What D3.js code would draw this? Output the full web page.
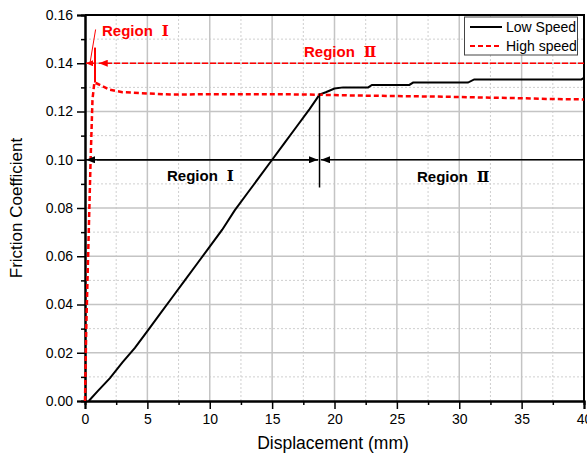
<!DOCTYPE html>
<html>
<head>
<meta charset="utf-8">
<script src="https://cdn.jsdelivr.net/npm/d3@7"></script>
<style>
  body { margin: 0; background: #fff; }
  text { font-family: "Liberation Sans", Arial, sans-serif; }
</style>
</head>
<body>
<script>
const [svgWidth, svgHeight] = [587, 461]

// displacement (mm) / friction coefficient
const lowX = [0.3, 1, 2, 3, 4, 5, 6, 7, 8, 9, 10, 11, 12, 13, 14, 15, 16, 17, 18, 18.8,
  19.3, 20, 20.7, 22.7, 23, 26, 26.3, 30.7, 31.2, 39.8, 40];
const lowY = [0, 0.004, 0.0095, 0.016, 0.022, 0.029, 0.036, 0.043, 0.050, 0.057, 0.064, 0.071, 0.079, 0.086, 0.093, 0.100, 0.107, 0.114, 0.121, 0.127,
  0.128, 0.1295, 0.130, 0.130, 0.131, 0.131, 0.132, 0.132, 0.1333, 0.1333, 0.134];
const highX = [0, 0.1, 0.3, 0.45, 0.6, 0.75, 1, 2, 3, 5, 7, 10, 15, 18, 20, 22, 25, 28, 30, 32, 35, 37, 40];
const highY = [0, 0.03, 0.07, 0.10, 0.125, 0.132, 0.1315, 0.129, 0.128, 0.1275, 0.127, 0.1272, 0.1272, 0.127, 0.1268, 0.1266, 0.1264, 0.1262, 0.126, 0.1258, 0.1255, 0.1252, 0.125];

const xTicks = [0, 5, 10, 15, 20, 25, 30, 35, 40];
const yTicks = [0, 0.02, 0.04, 0.06, 0.08, 0.10, 0.12, 0.14, 0.16];

const svg = d3.select('body')
  .append('svg')
  .attr("width", svgWidth)
  .attr("height", svgHeight);

const x = d3.scaleLinear().domain([0, 40]).range([85, 584]);
const y = d3.scaleLinear().domain([0, 0.16]).range([401, 15]);

const xMinor = d3.range(2.5, 40, 5);
const yMinor = d3.range(0.01, 0.16, 0.02);

// grid
const grid = svg.append("g");
grid.selectAll(".vmin").data(xMinor).enter().append("line")
  .attr("x1", d => x(d)).attr("x2", d => x(d)).attr("y1", y(0)).attr("y2", y(0.16))
  .attr("stroke", "#cfcfcf").attr("stroke-dasharray", "2,2");
grid.selectAll(".hmin").data(yMinor).enter().append("line")
  .attr("y1", d => y(d)).attr("y2", d => y(d)).attr("x1", x(0)).attr("x2", x(40))
  .attr("stroke", "#cfcfcf").attr("stroke-dasharray", "2,2");
grid.selectAll(".vmaj").data(xTicks.slice(1, -1)).enter().append("line")
  .attr("x1", d => x(d)).attr("x2", d => x(d)).attr("y1", y(0)).attr("y2", y(0.16))
  .attr("stroke", "#c4c4c4").attr("stroke-width", 1.5);
grid.selectAll(".hmaj").data(yTicks.slice(1, -1)).enter().append("line")
  .attr("y1", d => y(d)).attr("y2", d => y(d)).attr("x1", x(0)).attr("x2", x(40))
  .attr("stroke", "#c4c4c4").attr("stroke-width", 1.5);

// axes
svg.append("g").attr("transform", `translate(0,${y(0)})`)
  .call(d3.axisBottom(x).tickValues(xTicks).tickFormat(d3.format("d")).tickSize(8).tickPadding(5));
svg.append("g").attr("transform", `translate(0,${y(0)})`)
  .call(d3.axisBottom(x).tickValues(xMinor).tickFormat("").tickSize(4));
svg.append("g").attr("transform", `translate(${x(0)},0)`)
  .call(d3.axisLeft(y).tickValues(yTicks).tickFormat(d3.format(".2f")).tickSize(8).tickPadding(4));
svg.append("g").attr("transform", `translate(${x(0)},0)`)
  .call(d3.axisLeft(y).tickValues(yMinor).tickFormat("").tickSize(4));
svg.selectAll(".tick line").attr("stroke", "#000").attr("stroke-width", 1.5);
svg.selectAll(".domain").attr("stroke", "#000").attr("stroke-width", 2);
svg.selectAll(".tick text").attr("font-size", "14px").attr("fill", "#000")
  .attr("font-family", "'Liberation Sans', Arial, sans-serif");

// top and right border
svg.append("path")
  .attr("d", `M${x(0)},${y(0.16)}H${x(40)}V${y(0)}`)
  .attr("fill", "none").attr("stroke", "#000").attr("stroke-width", 2);

// arrow markers
const defs = svg.append("defs");
function marker(id, color, w, h) {
  defs.append("marker").attr("id", id)
    .attr("viewBox", `0 0 ${w} ${h}`).attr("refX", w).attr("refY", h / 2)
    .attr("markerWidth", w).attr("markerHeight", h).attr("markerUnits", "userSpaceOnUse")
    .attr("orient", "auto")
    .append("path").attr("d", `M0,0L${w},${h / 2}L0,${h}Z`).attr("fill", color);
}
marker("arrBlack", "#000", 9, 7);
marker("arrRed", "#f00", 9, 7);
marker("arrRedS", "#f00", 7, 6);

// curves
const line = d3.line().x(d => x(d[0])).y(d => y(d[1]));
svg.append("path").datum(lowX.map((d, i) => [d, lowY[i]]))
  .attr("d", line).attr("fill", "none").attr("stroke", "#000").attr("stroke-width", 2);
svg.append("path").datum(highX.map((d, i) => [d, highY[i]]))
  .attr("d", line).attr("fill", "none").attr("stroke", "#f00").attr("stroke-width", 2.5)
  .attr("stroke-dasharray", "5,3");

// region label: word + roman numeral
function region(px, py, numeral, color) {
  const t = svg.append("text").attr("x", px).attr("y", py)
    .attr("font-size", "15px").attr("font-weight", "bold").attr("fill", color)
    .attr("font-family", "'Noto Sans CJK KR', 'Noto Sans', sans-serif");
  t.append("tspan").text("Region");
  t.append("tspan").attr("dx", 9).attr("font-family", "'DejaVu Serif', serif").text(numeral);
}

// black annotation (0.10)
const bx = 18.8;
svg.append("line").attr("x1", x(40)).attr("x2", x(bx) + 1.5).attr("y1", y(0.10)).attr("y2", y(0.10))
  .attr("stroke", "#000").attr("stroke-width", 1.5).attr("marker-end", "url(#arrBlack)");
svg.append("line").attr("x1", x(bx) - 1.5).attr("x2", x(0) + 1).attr("y1", y(0.10)).attr("y2", y(0.10))
  .attr("stroke", "#000").attr("stroke-width", 1.5).attr("marker-end", "url(#arrBlack)");
svg.append("line").attr("x1", x(0) + 12).attr("x2", x(bx) - 1.5).attr("y1", y(0.10)).attr("y2", y(0.10))
  .attr("stroke", "#000").attr("stroke-width", 1.5).attr("marker-end", "url(#arrBlack)");
svg.append("line").attr("x1", x(bx)).attr("x2", x(bx)).attr("y1", y(0.1275)).attr("y2", y(0.0885))
  .attr("stroke", "#000").attr("stroke-width", 1.5);
region(167, 181, "Ⅰ", "#000");
region(417, 182, "Ⅱ", "#000");

// red annotation (0.14)
const rx = 0.8;
svg.append("line").attr("x1", x(40)).attr("x2", x(1.1)).attr("y1", y(0.14)).attr("y2", y(0.14))
  .attr("stroke", "#f00").attr("stroke-width", 1.5).attr("stroke-dasharray", "6,2")
  .attr("marker-end", "url(#arrRed)");
svg.append("line").attr("x1", x(rx)).attr("x2", x(0) + 1).attr("y1", y(0.14)).attr("y2", y(0.14))
  .attr("stroke", "#f00").attr("stroke-width", 1.5).attr("marker-end", "url(#arrRedS)");
svg.append("line").attr("x1", x(rx)).attr("x2", x(rx)).attr("y1", y(0.1465)).attr("y2", y(0.132))
  .attr("stroke", "#f00").attr("stroke-width", 2);
svg.append("line").attr("x1", x(0.4)).attr("x2", x(0.85)).attr("y1", y(0.14)).attr("y2", y(0.154))
  .attr("stroke", "#f00").attr("stroke-width", 1);
region(102, 36, "Ⅰ", "#f00");
region(304, 57, "Ⅱ", "#f00");

// legend
const lg = svg.append("g");
lg.append("rect").attr("x", 464.5).attr("y", 17).attr("width", 113).attr("height", 38)
  .attr("fill", "#fff").attr("stroke", "#444").attr("stroke-width", 1);
lg.append("line").attr("x1", 470).attr("x2", 502).attr("y1", 27).attr("y2", 27)
  .attr("stroke", "#000").attr("stroke-width", 2);
lg.append("line").attr("x1", 470).attr("x2", 502).attr("y1", 46).attr("y2", 46)
  .attr("stroke", "#f00").attr("stroke-width", 2).attr("stroke-dasharray", "5,3");
lg.append("text").attr("x", 506).attr("y", 32).attr("font-size", "14px").text("Low Speed");
lg.append("text").attr("x", 506).attr("y", 51).attr("font-size", "14px").text("High speed");

// axis titles
svg.append("text").attr("x", 333).attr("y", 449).attr("text-anchor", "middle")
  .attr("font-size", "17.5px").text("Displacement (mm)");
svg.append("text").attr("transform", "translate(22,208) rotate(-90)").attr("text-anchor", "middle")
  .attr("font-size", "17px").text("Friction Coefficient");
</script>
</body>
</html>
